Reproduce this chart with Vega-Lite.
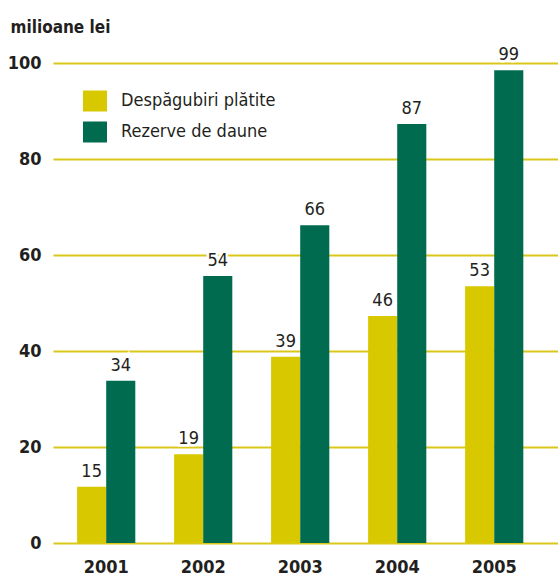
{
  "$schema": "https://vega.github.io/schema/vega-lite/v6.json",
  "width": 505,
  "height": 480,
  "autosize": {"type": "none"},
  "padding": {"left": 53, "top": 63, "right": 0, "bottom": 35},
  "background": "white",
  "config": {
    "view": {"stroke": null},
    "font": "Liberation Sans Narrow, DejaVu Sans Condensed, sans-serif"
  },
  "data": {
    "values": [
      {"year": "2001", "series": "Despăgubiri plătite", "value": 11.7, "label": "15"},
      {"year": "2001", "series": "Rezerve de daune", "value": 33.8, "label": "34"},
      {"year": "2002", "series": "Despăgubiri plătite", "value": 18.5, "label": "19"},
      {"year": "2002", "series": "Rezerve de daune", "value": 55.6, "label": "54"},
      {"year": "2003", "series": "Despăgubiri plătite", "value": 38.8, "label": "39"},
      {"year": "2003", "series": "Rezerve de daune", "value": 66.2, "label": "66"},
      {"year": "2004", "series": "Despăgubiri plătite", "value": 47.3, "label": "46"},
      {"year": "2004", "series": "Rezerve de daune", "value": 87.3, "label": "87"},
      {"year": "2005", "series": "Despăgubiri plătite", "value": 53.5, "label": "53"},
      {"year": "2005", "series": "Rezerve de daune", "value": 98.5, "label": "99"}
    ]
  },
  "encoding": {
    "x": {
      "field": "year",
      "type": "nominal",
      "scale": {"paddingInner": 0.4, "paddingOuter": 0.303, "align": 0.41},
      "axis": {
        "title": null,
        "domain": false,
        "ticks": false,
        "labelAngle": 0,
        "labelFontSize": 18,
        "labelFontWeight": "bold",
        "labelColor": "#231f20",
        "labelPadding": 15
      }
    },
    "xOffset": {
      "field": "series",
      "type": "nominal",
      "sort": ["Despăgubiri plătite", "Rezerve de daune"],
      "scale": {"paddingInner": 0, "paddingOuter": 0}
    },
    "y": {
      "field": "value",
      "type": "quantitative",
      "scale": {"domain": [0, 100], "nice": false},
      "axis": {
        "values": [0, 20, 40, 60, 80, 100],
        "domain": false,
        "ticks": false,
        "gridColor": "#d9c81a",
        "gridWidth": 2,
        "gridOpacity": 1,
        "labelFontSize": 18,
        "labelFontWeight": "bold",
        "labelColor": "#231f20",
        "labelPadding": 12,
        "title": "milioane lei",
        "titleAngle": 0,
        "titleX": -43,
        "titleY": -31,
        "titleAlign": "left",
        "titleBaseline": "alphabetic",
        "titleFontSize": 17,
        "titleFontWeight": "bold",
        "titleColor": "#231f20"
      }
    }
  },
  "layer": [
    {
      "mark": {"type": "bar"},
      "encoding": {
        "color": {
          "field": "series",
          "type": "nominal",
          "scale": {
            "domain": ["Despăgubiri plătite", "Rezerve de daune"],
            "range": ["#d7c800", "#006b4f"]
          },
          "legend": {
            "title": null,
            "orient": "none",
            "legendX": 30,
            "legendY": 26,
            "padding": 0,
            "symbolType": "M-1,-0.875L1,-0.875L1,0.875L-1,0.875Z",
            "symbolSize": 576,
            "symbolStrokeWidth": 0,
            "symbolOpacity": 1,
            "labelFontSize": 18,
            "labelLimit": 0,
            "labelColor": "#231f20",
            "labelOffset": 14,
            "rowPadding": 8
          }
        }
      }
    },
    {
      "mark": {"type": "text", "baseline": "alphabetic", "dy": -10, "fontSize": 18, "color": "white", "stroke": "white", "strokeWidth": 5, "strokeJoin": "miter"},
      "encoding": {
        "text": {"field": "label"}
      }
    },
    {
      "mark": {"type": "text", "baseline": "alphabetic", "dy": -10, "fontSize": 18, "color": "#231f20"},
      "encoding": {
        "text": {"field": "label"}
      }
    }
  ]
}
